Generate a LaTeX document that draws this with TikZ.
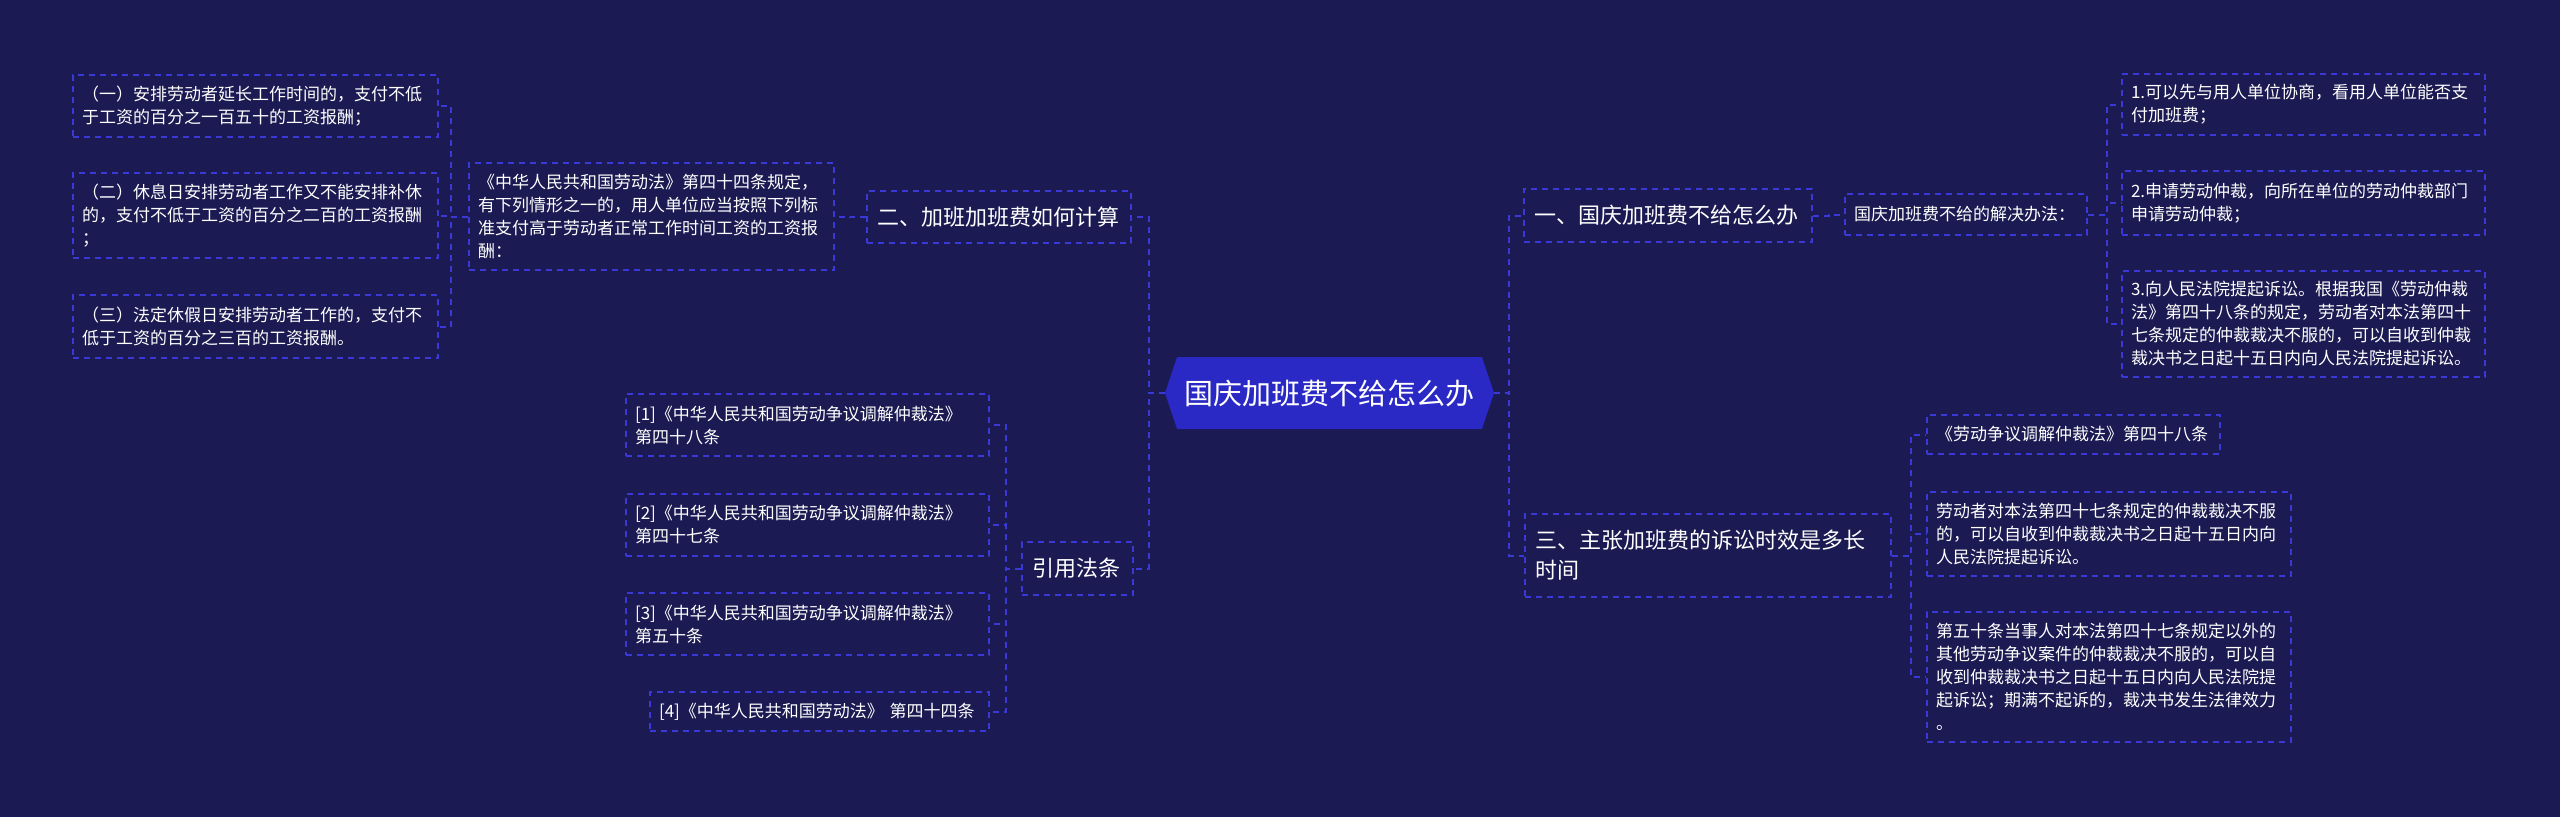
\documentclass[tikz,border=0pt]{standalone}
\usepackage{fontspec}
\newfontfamily\cjk{Noto Sans CJK SC}
\usepackage{tikz}
\usetikzlibrary{shapes.symbols}
\definecolor{bgnavy}{HTML}{1B1A52}
\definecolor{lineblue}{HTML}{3A38D6}
\definecolor{rootblue}{HTML}{2A29C6}
\tikzset{
    link/.style={draw=lineblue, line width=2pt, dash pattern=on 6pt off 5pt},
    rootnode/.style={signal, signal to=west and east, signal pointer angle=143,
        fill=rootblue, text=white, inner sep=0pt, minimum width=329pt, minimum height=72pt,
        font=\cjk\fontsize{29}{34}\selectfont},
    branch/.style={link, text=white, align=left, inner xsep=10pt, inner ysep=0pt,
        font=\cjk\fontsize{22}{30}\selectfont},
    leaf/.style={link, text=white, align=left, inner xsep=9pt, inner ysep=0pt,
        font=\cjk\fontsize{17}{23}\selectfont},
}
\begin{document}
\begin{tikzpicture}[x=1pt, y=-1pt]
\fill[bgnavy] (0,0) rectangle (2560,817);
% root
\node[rootnode] (root) at (1329.5,393) {国庆加班费不给怎么办};
% left half
\node[branch, text width=244pt, minimum height=52pt] (er) at (999,217) {二、加班加班费如何计算};
\node[leaf, text width=347pt, minimum height=107pt] (law44) at (651.5,216.5) {《中华人民共和国劳动法》第四十四条规定，\\有下列情形之一的，用人单位应当按照下列标\\准支付高于劳动者正常工作时间工资的工资报\\酬：};
\node[leaf, text width=347pt, minimum height=62pt] (a1) at (255.5,106) {（一）安排劳动者延长工作时间的，支付不低\\于工资的百分之一百五十的工资报酬；};
\node[leaf, text width=347pt, minimum height=85pt] (a2) at (255.5,215.5) {（二）休息日安排劳动者工作又不能安排补休\\的，支付不低于工资的百分之二百的工资报酬\\；};
\node[leaf, text width=347pt, minimum height=63pt] (a3) at (255.5,326.5) {（三）法定休假日安排劳动者工作的，支付不\\低于工资的百分之三百的工资报酬。};
\node[branch, text width=91pt, minimum height=53pt] (yin) at (1077.5,568.5) {引用法条};
\node[leaf, text width=345pt, minimum height=62pt] (l1) at (807.5,425) {[1]《中华人民共和国劳动争议调解仲裁法》\\第四十八条};
\node[leaf, text width=345pt, minimum height=62pt] (l2) at (807.5,524.5) {[2]《中华人民共和国劳动争议调解仲裁法》\\第四十七条};
\node[leaf, text width=345pt, minimum height=62pt] (l3) at (807.5,624) {[3]《中华人民共和国劳动争议调解仲裁法》\\第五十条};
\node[leaf, text width=321pt, minimum height=39pt] (l4) at (819.5,711.5) {[4]《中华人民共和国劳动法》 第四十四条};
% right half
\node[branch, text width=268pt, minimum height=53pt] (yi) at (1668,215.5) {一、国庆加班费不给怎么办};
\node[leaf, text width=224pt, minimum height=41pt] (fa) at (1966,214.5) {国庆加班费不给的解决办法：};
\node[leaf, text width=345pt, minimum height=61pt] (r1) at (2303.5,104.5) {1.可以先与用人单位协商，看用人单位能否支\\付加班费；};
\node[leaf, text width=345pt, minimum height=64pt] (r2) at (2303.5,203) {2.申请劳动仲裁，向所在单位的劳动仲裁部门\\申请劳动仲裁；};
\node[leaf, text width=345pt, minimum height=106pt] (r3) at (2303.5,324) {3.向人民法院提起诉讼。根据我国《劳动仲裁\\法》第四十八条的规定，劳动者对本法第四十\\七条规定的仲裁裁决不服的，可以自收到仲裁\\裁决书之日起十五日内向人民法院提起诉讼。};
\node[branch, text width=346pt, minimum height=83pt] (san) at (1708,555.5) {三、主张加班费的诉讼时效是多长\\时间};
\node[leaf, text width=275pt, minimum height=39pt] (s1) at (2073.5,434.5) {《劳动争议调解仲裁法》第四十八条};
\node[leaf, text width=346pt, minimum height=84pt] (s2) at (2109,534) {劳动者对本法第四十七条规定的仲裁裁决不服\\的，可以自收到仲裁裁决书之日起十五日内向\\人民法院提起诉讼。};
\node[leaf, text width=346pt, minimum height=130pt] (s3) at (2109,677) {第五十条当事人对本法第四十七条规定以外的\\其他劳动争议案件的仲裁裁决不服的，可以自\\收到仲裁裁决书之日起十五日内向人民法院提\\起诉讼；期满不起诉的，裁决书发生法律效力\\。};
% connectors
\foreach \c in {er,yin} \draw[link] (root.west) -- ++(-16,0) |- (\c.east);
\foreach \c in {yi,san} \draw[link] (root.east) -- ++(15,0) |- (\c.west);
\draw[link] (er.west) -- ++(-16,0) |- (law44.east);
\foreach \c in {a1,a2,a3} \draw[link] (law44.west) -- ++(-17,0) |- (\c.east);
\foreach \c in {l1,l2,l3,l4} \draw[link] (yin.west) -- ++(-15,0) |- (\c.east);
\draw[link] (yi.east) -- ++(16,0) |- (fa.west);
\foreach \c in {r1,r2,r3} \draw[link] (fa.east) -- ++(19,0) |- (\c.west);
\foreach \c in {s1,s2,s3} \draw[link] (san.east) -- ++(19,0) |- (\c.west);
\end{tikzpicture}
\end{document}
